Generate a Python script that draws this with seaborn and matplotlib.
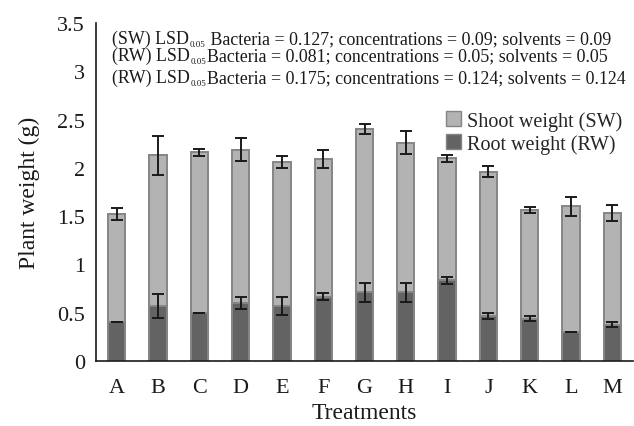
import matplotlib
matplotlib.use("Agg")
import matplotlib.pyplot as plt
import seaborn as sns
import pandas as pd
import numpy as np
from matplotlib.patches import Patch

treatments = ["A", "B", "C", "D", "E", "F", "G", "H", "I", "J", "K", "L", "M"]
total_weight = [1.52, 2.13, 2.16, 2.19, 2.06, 2.09, 2.40, 2.26, 2.10, 1.96, 1.56, 1.60, 1.53]
total_err = [0.06, 0.20, 0.035, 0.12, 0.06, 0.09, 0.05, 0.12, 0.035, 0.055, 0.03, 0.10, 0.085]
root_weight = [0.40, 0.57, 0.50, 0.60, 0.57, 0.665, 0.71, 0.71, 0.835, 0.465, 0.44, 0.305, 0.375]
root_err = [0.0, 0.12, 0.0, 0.06, 0.09, 0.035, 0.10, 0.10, 0.035, 0.035, 0.03, 0.0, 0.025]
yticks = [0, 0.5, 1, 1.5, 2, 2.5, 3, 3.5]
ytick_labels = ["0", "0.5", "1", "1.5", "2", "2.5", "3", "3.5"]
lsd_prefix = ["(SW) LSD", "(RW) LSD", "(RW) LSD"]
lsd_sub = "0.05"
lsd_rest = [" Bacteria = 0.127; concentrations = 0.09; solvents = 0.09",
            "Bacteria = 0.081; concentrations = 0.05; solvents = 0.05",
            "Bacteria = 0.175; concentrations = 0.124; solvents = 0.124"]

sns.set_theme(style="white")
plt.rcParams["font.family"] = ["Liberation Serif", "DejaVu Serif"]

W, H = 634, 427
df = pd.DataFrame({"Treatment": treatments, "Total": total_weight, "Root": root_weight})

fig = plt.figure(figsize=(W/100, H/100), dpi=100)
ax = fig.add_axes([96/W, 1-362/H, (633-96)/W, (362-24)/H])

shoot_c = "#b3b3b3"
root_c = "#636363"
edge_c = "#858585"
ink = "#1a1a1a"
w = 0.42
sns.barplot(data=df, x="Treatment", y="Total", color=shoot_c, edgecolor=edge_c,
            linewidth=1.4, width=w, saturation=1, errorbar=None, ax=ax)
sns.barplot(data=df, x="Treatment", y="Root", color=root_c, edgecolor=edge_c,
            linewidth=1.4, width=w, saturation=1, errorbar=None, ax=ax)

xpos = np.arange(len(treatments))
ax.errorbar(xpos, total_weight, yerr=total_err, fmt="none", ecolor=ink,
            elinewidth=1.4, capsize=4, capthick=1.4, zorder=5)
ax.errorbar(xpos, root_weight, yerr=root_err, fmt="none", ecolor=ink,
            elinewidth=1.4, capsize=4, capthick=1.4, zorder=5)

ax.set_xlim(-0.5, len(treatments) - 0.5)
ax.set_ylim(0, 3.5)
ax.set_yticks(yticks)
ax.set_yticklabels(ytick_labels)
ax.tick_params(axis="both", length=0, labelsize=16, colors=ink)
ax.tick_params(axis="x", pad=12)
ax.tick_params(axis="y", pad=8)
for s in ["top", "right"]:
    ax.spines[s].set_visible(False)
for s in ["left", "bottom"]:
    ax.spines[s].set_color(ink)
    ax.spines[s].set_linewidth(1.2)
ax.set_xlabel("Treatments", fontsize=17, color=ink, labelpad=4)
ax.set_ylabel("Plant weight (g)", fontsize=17, color=ink, labelpad=12)

# LSD annotation lines, built from pieces so the subscript can be small
renderer = fig.canvas.get_renderer()
baselines = [44, 61, 83]
fs = 12.9
for i in range(3):
    x = 112
    yb = baselines[i]
    t1 = fig.text(x/W, 1 - yb/H, lsd_prefix[i], fontsize=fs, color=ink,
                  ha="left", va="baseline")
    x += t1.get_window_extent(renderer).width
    t2 = fig.text((x + 0.5)/W, 1 - (yb + 3)/H, lsd_sub, fontsize=6.5, color=ink,
                  ha="left", va="baseline")
    x += t2.get_window_extent(renderer).width + 1
    fig.text(x/W, 1 - yb/H, lsd_rest[i], fontsize=fs, color=ink,
             ha="left", va="baseline")

handles = [Patch(facecolor=shoot_c, edgecolor=edge_c, label="Shoot weight (SW)"),
           Patch(facecolor=root_c, edgecolor=edge_c, label="Root weight (RW)")]
ax.legend(handles=handles, loc="upper left", bbox_to_anchor=((438-96)/537, (362-104)/338),
          frameon=False, fontsize=14.5, handlelength=0.75, handleheight=0.75,
          handletextpad=0.3, labelspacing=0.15, borderaxespad=0)

fig.savefig("out.png", dpi=100)
